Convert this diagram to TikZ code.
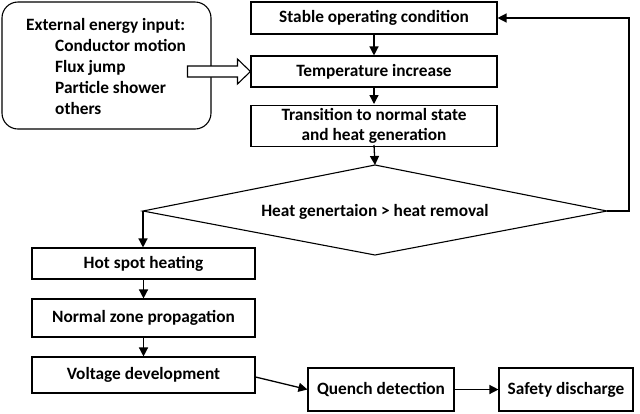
\documentclass[tikz,border=0pt]{standalone}
\usepackage{fontspec}
\setmainfont{Carlito}
\usetikzlibrary{arrows.meta,calc}
\begin{document}
\begin{tikzpicture}[x=1pt,y=-1pt,
  every node/.style={font=\bfseries\fontsize{17.3}{20}\selectfont},
  box/.style={draw,line width=1.1pt,inner sep=0pt,align=center},
  arr/.style={line width=1.3pt,-{Triangle[length=9pt,width=9pt]}}]
\useasboundingbox (0,0) rectangle (640,413);
% nodes
\node[box,rounded corners=16pt,minimum width=209pt,minimum height=127pt] (ext) at (106.5,65.5) {};
\node[anchor=north west,align=left,inner sep=0pt,font=\bfseries\fontsize{17.3}{21}\selectfont] (extt) at (26,18)
 {External energy input:\\
  \hspace*{29pt}Conductor motion\\
  \hspace*{29pt}Flux jump\\
  \hspace*{29pt}Particle shower\\
  \hspace*{29pt}others};
\node[box,minimum width=246pt,minimum height=32pt] (stable) at (374,18) {Stable operating condition};
\node[box,minimum width=246pt,minimum height=31pt] (temp) at (374,71.5) {Temperature increase};
\node[box,minimum width=246pt,minimum height=41pt,font=\bfseries\fontsize{17.3}{20.5}\selectfont] (trans) at (374,126) {Transition to normal state\\and heat generation};
\coordinate (dN) at (375,165);
\coordinate (dE) at (607,211);
\coordinate (dS) at (375,255);
\coordinate (dW) at (143,211);
\draw[line width=1.1pt] (dN) -- (dE) -- (dS) -- (dW) -- cycle;
\node[inner sep=0pt] (dec) at (375,212) {Heat genertaion > heat removal};
\node[box,minimum width=223pt,minimum height=31pt] (hot) at (143.5,263.5) {Hot spot heating};
\node[box,minimum width=223pt,minimum height=38pt] (nzp) at (143.5,318) {Normal zone propagation};
\node[box,minimum width=223pt,minimum height=36pt] (volt) at (143.5,375) {Voltage development};
\node[box,minimum width=146pt,minimum height=43pt] (qd) at (381,389.5) {Quench detection};
\node[box,minimum width=134pt,minimum height=43pt] (sd) at (566,389.5) {Safety discharge};
% block arrow from external input to temperature increase
\draw[line width=1.1pt,fill=white] ($(temp.west)+(-63,-5.5)$) -- ++(50,0) -- ++(0,-7) -- (temp.west) -- ++(-13,12.5) -- ++(0,-7) -- ++(-50,0) -- cycle;
% connectors
\draw[arr] (stable) -- (temp);
\draw[arr] (temp) -- (trans.north |- 0,104);
\draw[arr] (trans.south |- 0,145) -- (dN);
\draw[arr] (dE) -- ++(22,0) |- (stable.east);
\draw[arr] (dW) -- (dW |- hot.north);
\draw[arr] (hot) -- (nzp);
\draw[arr] (nzp) -- (volt);
\draw[arr] ($(volt.east)+(0,2)$) -- (qd.west);
\draw[arr] (qd) -- (sd);
\end{tikzpicture}
\end{document}
